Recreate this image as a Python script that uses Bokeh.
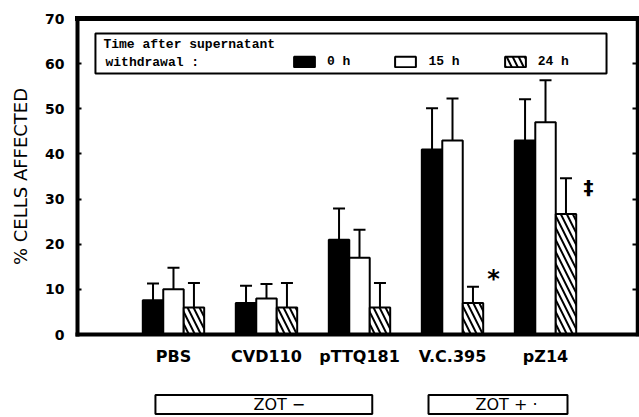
from bokeh.plotting import figure
from bokeh.layouts import column
from bokeh.models import (ColumnDataSource, Range1d, Whisker, TeeHead, Legend, LegendItem,
                          Label, BoxAnnotation, LinearAxis, FixedTicker)
from bokeh.embed import file_html
from bokeh.resources import INLINE

# ---- data ----
groups = ["PBS", "CVD110", "pTTQ181", "V.C.395", "pZ14"]
series_labels = ["0 h", "15 h", "24 h"]
mean_0h = [7.6, 7.0, 21.0, 41.0, 43.0]
err_0h = [3.7, 3.8, 6.9, 9.1, 9.1]
mean_15h = [10.0, 8.0, 17.0, 43.0, 47.0]
err_15h = [4.8, 3.2, 6.2, 9.3, 9.3]
mean_24h = [6.0, 6.0, 6.0, 7.0, 26.7]
err_24h = [5.4, 5.4, 5.4, 3.6, 7.9]
y_ticks = [0, 10, 20, 30, 40, 50, 60, 70]
zot_labels = ["ZOT −", "ZOT + ·"]

BAR_W = 0.22
offsets = [-BAR_W, 0.0, BAR_W]

x_range = Range1d(-1.032, 4.989)
p = figure(width=639, height=385, output_backend="svg", toolbar_location=None,
           x_range=x_range, y_range=Range1d(0, 70),
           min_border_left=77, min_border_right=2, min_border_top=18, min_border_bottom=51)
p.outline_line_color = None
p.xgrid.visible = False
p.ygrid.visible = False
p.background_fill_color = "white"
p.border_fill_color = "white"

def make_source(means, errs, off):
    xs = [i + off for i in range(len(groups))]
    tops = [m + e for m, e in zip(means, errs)]
    return ColumnDataSource(dict(x=xs, mean=means, top=tops))

styles = [
    dict(fill_color="black"),
    dict(fill_color="white"),
    dict(fill_color="white", hatch_pattern="\\", hatch_scale=12, hatch_weight=2, hatch_color="black"),
]
renderers = []
for means, errs, off, st in zip([mean_0h, mean_15h, mean_24h], [err_0h, err_15h, err_24h], offsets, styles):
    src = make_source(means, errs, off)
    r = p.vbar(x="x", top="mean", bottom=0, width=BAR_W, source=src,
               line_color="black", line_width=2, **st)
    renderers.append(r)
    wh = Whisker(source=src, base="x", lower="mean", upper="top", dimension="height",
                 line_color="black", line_width=2,
                 upper_head=TeeHead(size=12, line_width=2, line_color="black"), lower_head=None)
    p.add_layout(wh)

# ---- axes ----
yax = p.yaxis[0]
yax.ticker = FixedTicker(ticks=y_ticks)
yax.axis_line_width = 4
yax.axis_line_cap = "square"
yax.major_tick_in = 4
yax.major_tick_out = 0
yax.major_tick_line_width = 2
yax.minor_tick_line_color = None
yax.major_label_text_font = "DejaVu Sans"
yax.major_label_text_font_style = "bold"
yax.major_label_text_font_size = "14px"
yax.major_label_text_color = "black"
yax.major_label_standoff = 13
yax.axis_label = "% CELLS AFFECTED"
yax.axis_label_text_font = "DejaVu Sans"
yax.axis_label_text_font_style = "normal"
yax.axis_label_text_font_size = "18px"
yax.axis_label_text_color = "black"
yax.axis_label_standoff = 11

xax = p.xaxis[0]
xax.ticker = FixedTicker(ticks=list(range(len(groups))))
xax.major_label_overrides = {i: g for i, g in enumerate(groups)}
xax.axis_line_width = 4
xax.axis_line_cap = "square"
xax.major_tick_line_color = None
xax.minor_tick_line_color = None
xax.major_label_text_font = "DejaVu Sans"
xax.major_label_text_font_style = "bold"
xax.major_label_text_font_size = "16px"
xax.major_label_text_color = "black"
xax.major_label_standoff = 6

top_ax = LinearAxis(ticker=FixedTicker(ticks=[]), axis_line_width=5, axis_line_cap="square",
                    major_label_text_color=None, major_label_standoff=0,
                    major_tick_line_color=None, minor_tick_line_color=None)
p.add_layout(top_ax, "above")
right_ax = LinearAxis(ticker=FixedTicker(ticks=y_ticks), axis_line_width=3.5,
                      axis_line_cap="square", major_tick_in=5, major_tick_out=0, major_tick_line_width=2,
                      major_label_text_color=None, major_label_text_font_size="1px",
                      major_label_standoff=0, minor_tick_line_color=None)
p.add_layout(right_ax, "right")

# ---- legend ----
box = BoxAnnotation(left=-0.839, right=4.656, top=66.7, bottom=57.8,
                    fill_color="white", fill_alpha=1.0, line_color="black", line_width=2, line_alpha=1.0)
p.add_layout(box)

LEG_FONT = "Liberation Mono"
for txt, lx, ly in [("Time after supernatant", -0.753, 64.2), ("withdrawal :", -0.731, 60.2)]:
    p.add_layout(Label(x=lx, y=ly, text=txt, text_font=LEG_FONT, text_font_style="bold",
                       text_font_size="13px", text_baseline="middle", text_align="left",
                       text_color="black"))

legend = Legend(items=[LegendItem(label=s, renderers=[r]) for s, r in zip(series_labels, renderers)],
                orientation="horizontal", location=(214, 265), padding=0, margin=0,
                spacing=42, label_standoff=10, glyph_width=26, glyph_height=13, label_height=13,
                border_line_color=None, background_fill_alpha=0,
                label_text_font=LEG_FONT, label_text_font_style="bold",
                label_text_font_size="13px", label_text_color="black")
p.add_layout(legend)

# ---- significance marks ----
p.add_layout(Label(x=3.44, y=12.4, text="*", text_font="DejaVu Sans", text_font_style="bold",
                   text_font_size="24px", text_align="center", text_baseline="middle", text_color="black"))
p.add_layout(Label(x=4.462, y=32.6, text="‡", text_font="DejaVu Sans", text_font_style="bold",
                   text_font_size="20px", text_align="center", text_baseline="middle", text_color="black"))

# ---- strip with group boxes below the chart ----
s = figure(width=639, height=32, output_backend="svg", toolbar_location=None,
           x_range=x_range, y_range=Range1d(0, 32),
           x_axis_location=None, y_axis_location=None,
           min_border_left=77, min_border_right=2, min_border_top=0, min_border_bottom=0)
s.outline_line_color = None
s.xgrid.visible = False
s.ygrid.visible = False
s.background_fill_color = "white"
s.border_fill_color = "white"
for txt, lx, pads in [(zot_labels[0], -0.194, dict(left=98, right=67, top=0, bottom=0)),
                      (zot_labels[1], 2.742, dict(left=47, right=30, top=0, bottom=0))]:
    s.add_layout(Label(x=lx, y=13, text=txt, text_font="DejaVu Sans", text_font_size="16px",
                       text_align="left", text_baseline="middle", text_color="black",
                       border_line_color="black", border_line_width=2, background_fill_color="white",
                       padding=pads))

open("out.html", "w").write(file_html(column(p, s, spacing=0), INLINE))
